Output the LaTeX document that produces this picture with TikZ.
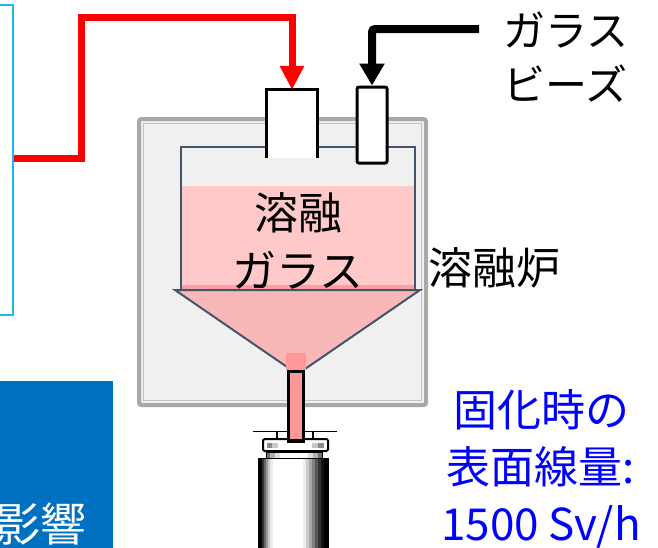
\documentclass[tikz,border=0pt]{standalone}
\usepackage{fontspec}
\newfontfamily\jp{Noto Sans CJK JP}
\usetikzlibrary{arrows.meta}

\definecolor{panelcyan}{HTML}{1FB7F0}
\definecolor{feedred}{HTML}{FF0000}
\definecolor{furnfill}{HTML}{F0F0F0}
\definecolor{frameout}{HTML}{ABA7A7}
\definecolor{framein}{HTML}{C4C1C1}
\definecolor{slate}{HTML}{44546A}
\definecolor{glasspink}{HTML}{FFC9C9}
\definecolor{glassband}{HTML}{FF9E9E}
\definecolor{funnelpink}{HTML}{F8B8B8}
\definecolor{pipepink}{HTML}{FF9999}
\definecolor{boxblue}{HTML}{0070C0}
\definecolor{textblue}{HTML}{0000FF}

\tikzset{
  panelbox/.style={draw=panelcyan, line width=2pt, inner sep=0pt},
  feedline/.style={draw=feedred, line width=7pt,
    -{Triangle[width=23pt,length=24pt]}},
  beadline/.style={draw=black, line width=8pt, rounded corners=3pt,
    -{Triangle[width=24pt,length=22pt]}},
  nozzle/.style={fill=white, inner sep=0pt},
  wall/.style={draw=slate, line width=2.5pt},
  jplabel/.style={font=\jp\fontsize{42}{54}\selectfont, inner sep=0pt},
  infolabel/.style={font=\jp\fontsize{44}{57}\selectfont, text=textblue,
    align=center, inner sep=0pt},
}

\begin{document}
\begin{tikzpicture}[x=1pt,y=-1pt]
\useasboundingbox (0,0) rectangle (658,547);
\clip (0,0) rectangle (658,547);

% control panel on the left
\node[panelbox, minimum width=40pt, minimum height=310pt] (panel) at (-7,160) {};

% blue title block
\node[fill=boxblue, minimum width=113pt, minimum height=170pt, inner sep=0pt,
      anchor=north west] (title) at (0,381) {};
\node[font=\jp\fontsize{46}{46}\selectfont, text=white, inner sep=0pt,
      anchor=base west] (titletext) at (-6,541) {影響};

% furnace housing
\draw[fill=furnfill, draw=frameout, line width=4pt, rounded corners=2.5pt]
  (139,119) rectangle (426,405);
\draw[draw=framein, line width=1pt] (143.5,123.5) rectangle (421.5,400.5);

% molten glass pool
\fill[glasspink] (181,186) rectangle (415,290);
\fill[glassband] (181,285) rectangle (415,291);
\draw[wall] (181,290) -- (181,147) -- (415,147) -- (415,290);

% funnel
\filldraw[fill=funnelpink, draw=slate, line width=2pt, line join=miter]
  (175,290) -- (420,290) -- (305,369) -- (290,369) -- cycle;

% canister: support bar and posts
\draw[black, line width=1.5pt] (253,431.5) -- (337,431.5);
\draw[black, line width=1.5pt] (277,431) -- (277,438) (313,431) -- (313,438);
% metallic body: vertical bands, dark rims and a bright middle
\fill[white] (258,458) rectangle (328,560);
\foreach \xa/\xb/\shadeval in {258/262/0, 262/264/20, 264/266/40, 266/268/60,
    268/270/78, 270/273/92, 303/306/92, 306/309/80, 309/312/66, 312/315/50,
    315/318/34, 318/321/20, 321/324/8, 324/328/0} {
  \fill[white!\shadeval!black] (\xa,458) rectangle (\xb+0.3,560);
}
\draw[black, line width=1pt] (258,458) rectangle (328,560);
% lid rings
\fill[white] (266,452) rectangle (322,458);
\foreach \xa/\xb/\shadeval in {266/270/45, 270/275/70, 275/280/88,
    308/313/88, 313/318/70, 318/322/45} {
  \fill[white!\shadeval!black] (\xa,452) rectangle (\xb+0.3,458);
}
\draw[black, line width=0.6pt] (266,452) rectangle (322,458);
\draw[black, line width=2pt, fill=white, rounded corners=1.5pt]
  (263,439) rectangle (328,451);
\foreach \xa/\xb/\shadeval in {267/272/55, 272/278/78, 312/318/78, 318/324/55} {
  \fill[white!\shadeval!black] (\xa,442.5) rectangle (\xb+0.3,447.5);
}

% outlet pipe
\node[fill=pipepink, draw=black, line width=3.5pt, inner sep=0pt,
      minimum width=15pt, minimum height=70pt] (pipe) at (296,406) {};
\node[fill=pipepink, inner sep=0pt, minimum width=20pt, minimum height=17pt]
  (outlet) at (296,361.5) {};

% feed nozzle (open at the bottom) and bead nozzle
\node[nozzle, minimum width=50pt, minimum height=68pt] (feed) at (292,124) {};
\draw[black, line width=3pt]
  (feed.south west) -- (feed.north west) -- (feed.north east) -- (feed.south east);
\node[nozzle, draw=black, line width=3pt, rounded corners=2pt,
      minimum width=30pt, minimum height=76pt] (beads) at (372,125) {};

% feed lines
\coordinate (feedsrc) at (panel.east |- 0,158);
\draw[feedline] (feedsrc) -- (81,158) -- (81,17) -- (feed.north |- 0,17) -- (feed.north);
\coordinate (beadsrc) at (479,29);
\draw[beadline] (beadsrc) -- (beads.north |- beadsrc) -- (beads.north);

% labels
\node[jplabel, align=left, anchor=west] (beadlabel) at (503,57) {ガラス\\ビーズ};
\node[jplabel, align=center, font=\jp\fontsize{44}{58}\selectfont]
  (glasslabel) at (298,241) {溶融\\ガラス};
\node[jplabel, font=\jp\fontsize{44}{44}\selectfont, anchor=west]
  (furnlabel) at (428,268) {溶融炉};
\node[infolabel] (doselabel) at (541,469) {固化時の\\表面線量:\\1500 Sv/h};
\end{tikzpicture}
\end{document}
